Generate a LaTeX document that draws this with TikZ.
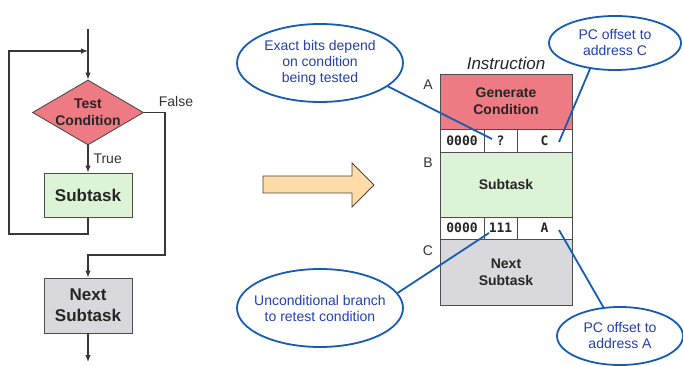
\documentclass[tikz,border=0pt]{standalone}
\usepackage{fontspec}
\setmainfont{Liberation Sans}
\setmonofont{DejaVu Sans Mono}
\usetikzlibrary{shapes.geometric,arrows.meta,positioning}
\definecolor{condred}{RGB}{238,122,132}
\definecolor{subgreen}{RGB}{221,243,214}
\definecolor{nextgray}{RGB}{217,217,221}
\definecolor{arroworange}{RGB}{255,219,168}
\definecolor{calloutblue}{RGB}{22,92,176}
\definecolor{notetext}{RGB}{36,64,176}
\begin{document}
\begin{tikzpicture}
	[x=1pt,y=-1pt,
	flow/.style={draw=black!78,line width=1.1pt,-{Latex[length=7pt,width=5.5pt]}},
	cond/.style={diamond,draw=black!70,fill=condred,line width=0.9pt,
		inner sep=0pt,minimum width=111pt,minimum height=65pt},
	boldtext/.style={align=center,text=black!85,font=\fontsize{14}{17}\selectfont\bfseries},
	box/.style={draw=black!70,line width=0.9pt,minimum width=88pt,inner sep=0pt,
		align=center,text=black!85,font=\fontsize{17}{21}\selectfont\bfseries},
	blk/.style={draw=black!70,line width=0.9pt,minimum width=132pt,inner sep=0pt,
		outer sep=0pt,align=center,text=black!85,font=\fontsize{14}{17}\selectfont\bfseries},
	cell/.style={draw=black!70,line width=0.9pt,fill=white,minimum height=23pt,
		inner sep=0pt,outer sep=0pt,text=black!85,font=\ttfamily\bfseries\fontsize{13}{15}\selectfont},
	lbl/.style={text=black!80,font=\fontsize{14}{17}\selectfont},
	callout/.style={ellipse,draw=calloutblue,fill=white,line width=1.8pt,inner sep=0pt},
	note/.style={align=center,text=notetext,font=\fontsize{14}{16}\selectfont},
	pointer/.style={draw=calloutblue,line width=1.8pt}]
	\useasboundingbox (0,0) rectangle (683,366);
	\coordinate (entry) at (88,29);
	\coordinate (merge) at (88,51);
	\coordinate (loopc) at (9,234);
	\coordinate (falsec) at (165,255);
	\coordinate (exit) at (88,362);
	\node[cond] (test) at (88,112.5) {};
	\node[boldtext] at (test) {Test\\Condition};
	\node[box,fill=subgreen,minimum height=44pt] (sub) at (88,195) {Subtask};
	\node[box,fill=nextgray,minimum height=55pt] (next) at (88,305.5) {Next\\Subtask};
	\node[lbl] (false) at (176,101) {False};
	\draw[flow] (entry) -- (test.north);
	\draw[flow] (test.south) -- node[lbl,right,inner sep=5pt] (true) {True} (sub.north);
	\draw[flow] (test.east) -| (falsec) -| (next.north);
	\draw[flow] (sub.south) |- (loopc) |- (merge);
	\draw[flow] (next.south) -- (exit);
	\draw[fill=arroworange,draw=black!72,line width=0.9pt]
		(263,176) -- (352,176) -- (352,163) -- (374,185) -- (352,207) -- (352,193) -- (263,193) -- cycle;
	\node[blk,fill=condred,minimum height=55pt] (gen) at (506,101.5) {Generate\\Condition};
	\node[cell,minimum width=44pt,anchor=north west] (ca) at (gen.south west) {0000};
	\node[cell,minimum width=33pt,right=0pt of ca] (cb) {?};
	\node[cell,minimum width=55pt,right=0pt of cb] (cc) {C};
	\node[blk,fill=subgreen,minimum height=65pt,anchor=north west] (body) at (ca.south west) {Subtask};
	\node[cell,minimum width=44pt,minimum height=22pt,anchor=north west] (cd) at (body.south west) {0000};
	\node[cell,minimum width=33pt,minimum height=22pt,right=0pt of cd] (ce) {111};
	\node[cell,minimum width=55pt,minimum height=22pt,right=0pt of ce] (cf) {A};
	\node[blk,fill=nextgray,minimum height=66pt,anchor=north west] (after) at (cd.south west) {Next\\Subtask};
	\node[font=\fontsize{17}{20}\selectfont\itshape,text=black!85] (instr) at (506,63) {Instruction};
	\node[lbl] (la) at (428,85) {A};
	\node[lbl] (lb) at (428,163) {B};
	\node[lbl] (lc) at (428,251) {C};
	\coordinate (qmark) at (492,139);
	\coordinate (ctip) at (559,142);
	\coordinate (onetip) at (489,233);
	\coordinate (atip) at (559,230);
	\node[callout,minimum width=166pt,minimum height=78pt] (bits) at (320,63) {};
	\node[note] at (bits) {Exact bits depend\\on condition\\being tested};
	\node[callout,minimum width=132pt,minimum height=54pt] (pcc) at (615,43) {};
	\node[note] at (pcc) {PC offset to\\address C};
	\node[callout,minimum width=166pt,minimum height=78pt] (uncond) at (320,308) {};
	\node[note] at (uncond) {Unconditional branch\\to retest condition};
	\node[callout,minimum width=126pt,minimum height=58pt] (pca) at (620,336) {};
	\node[note] at (pca) {PC offset to\\address A};
	\draw[pointer] (bits.-19) -- (qmark);
	\draw[pointer] (pcc.-134) -- (ctip);
	\draw[pointer] (uncond.11) -- (onetip);
	\draw[pointer] (pca.120) -- (atip);
\end{tikzpicture}
\end{document}
